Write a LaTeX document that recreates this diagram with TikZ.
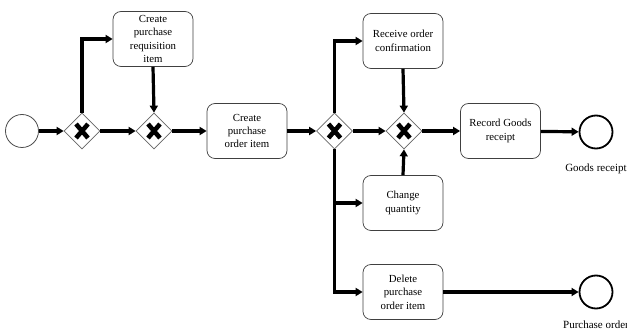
\documentclass[tikz,border=0pt]{standalone}
\usepackage{fontspec}
\setmainfont{Liberation Serif}
\usetikzlibrary{shapes.geometric,arrows.meta,positioning}
\begin{document}
\begin{tikzpicture}[x=1pt,y=-1pt,
  task/.style={draw=black!75, line width=0.7pt, rounded corners=8pt, fill=white,
    minimum width=80pt, minimum height=55pt, align=center,
    font=\fontsize{10.8}{13.4}\selectfont, inner sep=2pt},
  gw/.style={diamond, draw=black!60, line width=0.7pt, fill=white, inner sep=0pt,
    minimum width=36pt, minimum height=36pt,
    path picture={
      \draw[draw=black, line width=4.6pt]
        ([shift={(-6pt,-7pt)}]path picture bounding box.center) --
        ([shift={(6pt,7pt)}]path picture bounding box.center)
        ([shift={(-6pt,7pt)}]path picture bounding box.center) --
        ([shift={(6pt,-7pt)}]path picture bounding box.center);}},
  startev/.style={circle, draw=black!70, line width=0.8pt, minimum size=33pt, inner sep=0pt},
  endev/.style={circle, draw=black, line width=1.8pt, minimum size=33pt, inner sep=0pt},
  flow/.style={line width=3.2pt, -{Triangle[length=7pt,width=8pt]}},
  lbl/.style={font=\fontsize{11}{14}\selectfont, align=center}
]
\useasboundingbox (0,0) rectangle (627,331);

% events
\node[startev] (start) at (22,131) {};
\node[endev] (end1) at (596,132) {};
\node[endev] (end2) at (596,292) {};
\node[lbl, anchor=north] at (596,160) {Goods receipt};
\node[lbl, anchor=north] at (596,317) {Purchase order\\item deleted};

% gateways
\node[gw] (g1) at (82,131) {};
\node[gw] (g2) at (154,131) {};
\node[gw] (g3) at (334.5,131) {};
\node[gw] (g4) at (404,131) {};

% tasks
\node[task] (req) at (153,39) {Create\\purchase\\requisition\\item};
\node[task] (po) at (247,131) {Create\\purchase\\order item};
\node[task] (conf) at (403,41) {Receive order\\confirmation};
\node[task] (rec) at (500.5,131) {Record Goods\\receipt};
\node[task] (chg) at (403,203) {Change\\quantity};
\node[task] (del) at (403,292) {Delete\\purchase\\order item};

% sequence flows
\draw[flow] (start) -- (g1);
\draw[flow] (g1.north) |- (req.west);
\draw[flow] (req.south) -- (g2.north);
\draw[flow] (g1) -- (g2);
\draw[flow] (g2) -- (po);
\draw[flow] (po) -- (g3);
\draw[flow] (g3.north) |- (conf.west);
\draw[flow] (g3) -- (g4);
\draw[flow] (g3.south) |- (chg.west);
\draw[flow] (g3.south) |- (del.west);
\draw[flow] (conf.south) -- (g4.north);
\draw[flow] (chg.north) -- (g4.south);
\draw[flow] (g4) -- (rec);
\draw[flow] (rec) -- (end1);
\draw[flow] (del) -- (end2);
\end{tikzpicture}
\end{document}
